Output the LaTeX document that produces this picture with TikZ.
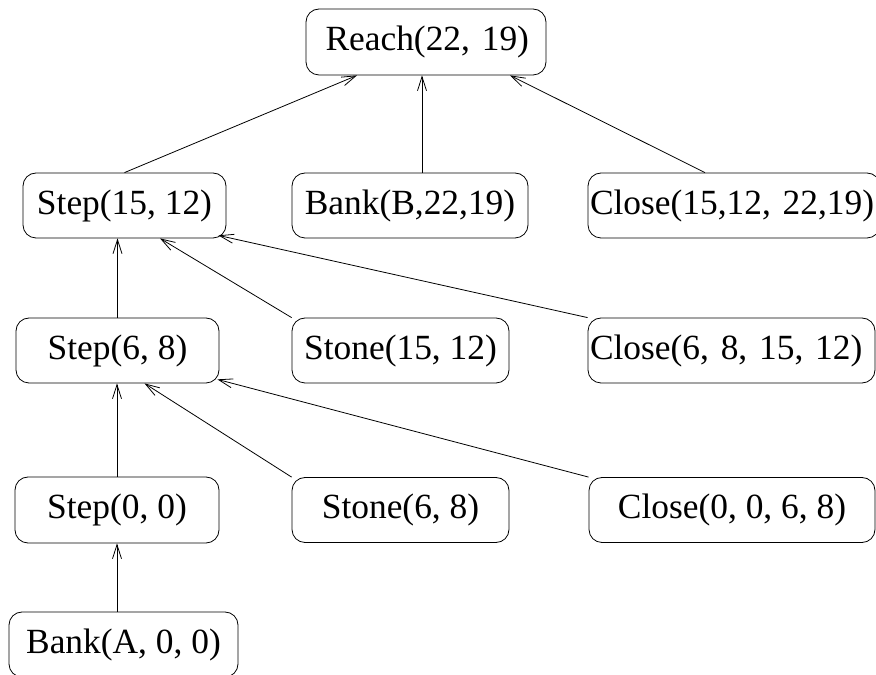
\documentclass[tikz,border=0pt]{standalone}
\usepackage{fontspec}
\setmainfont{Liberation Serif}
\usetikzlibrary{arrows.meta,calc}

\begin{document}
\begin{tikzpicture}[
                    x=1pt, y=1pt,
                    term_node/.style={draw=black, line width=0.8pt, rounded corners=13pt, minimum height=65pt, inner sep=0pt, font=\fontsize{35.4}{40}\selectfont},
                    flush_node/.style={term_node, align=left, inner xsep=2pt, text width=#1},
                    link/.style={line width=0.8pt, -{Straight Barb[length=14pt, width=9pt, line width=0.8pt]}}
                ]
                    \useasboundingbox (0,0) rectangle (876,675);
                    \node[term_node, minimum height=66pt, align=right, inner xsep=17pt, text width=206pt] (reach) at (426,633) {Reach(22, 19)};
                    \node[term_node, minimum width=203pt] (step_a) at (124.5,469.5) {Step(15, 12)};
                    \node[term_node, minimum width=236pt] (bank_b) at (410,469.5) {Bank(B,22,19)};
                    \node[flush_node=288pt] (close_a) at (734,469.5) {Close(15,12, 22,19)};
                    \node[term_node, minimum width=203pt] (step_b) at (117.5,324.5) {Step(6, 8)};
                    \node[term_node, minimum width=217pt] (stone_a) at (400.5,324.5) {Stone(15, 12)};
                    \node[flush_node=283pt] (close_b) at (731.5,324.5) {Close(6, 8, 15, 12)};
                    \node[term_node, minimum width=204pt, minimum height=66pt] (step_c) at (117,165) {Step(0, 0)};
                    \node[term_node, minimum width=217pt] (stone_b) at (400.5,165) {Stone(6, 8)};
                    \node[term_node, minimum width=286pt] (close_c) at (732,165) {Close(0, 0, 6, 8)};
                    \node[term_node, minimum width=229pt] (bank_a) at (123.5,30.5) {Bank(A, 0, 0)};
                    \draw[link] (step_a.north) -- ($(reach.south)+(-69,0)$);
                    \draw[link] ($(bank_b.north)+(12,0)$) -- ($(reach.south)+(-4,0)$);
                    \draw[link] ($(close_a.north)+(-29,0)$) -- ($(reach.south)+(84,0)$);
                    \draw[link] (step_b.north) -- (step_b.north |- step_a.south);
                    \draw[link] (stone_a.north west) -- ($(step_a.south)+(35.5,0)$);
                    \draw[link] (close_b.north west) -- ($(step_a.south east)+(-8,3)$);
                    \draw[link] (step_c.north) -- (step_c.north |- step_b.south);
                    \draw[link] (stone_b.north west) -- ($(step_b.south)+(27,0)$);
                    \draw[link] (close_c.north west) -- ($(step_b.south east)+(-2,4)$);
                    \draw[link] (step_c.south |- bank_a.north) -- (step_c.south);
                \end{tikzpicture}
\end{document}
